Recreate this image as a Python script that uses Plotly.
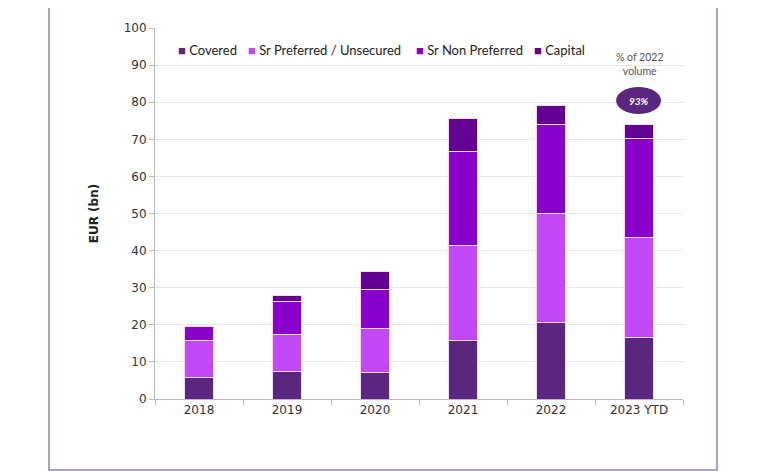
import plotly.graph_objects as go

years = ["2018", "2019", "2020", "2021", "2022", "2023 YTD"]
covered = [5.9, 7.5, 7.1, 15.7, 20.5, 16.6]
sr_preferred = [9.8, 9.8, 11.8, 25.8, 29.4, 27.0]
sr_non_preferred = [3.8, 9.1, 10.6, 25.2, 24.2, 26.7]
capital = [0.0, 1.4, 4.8, 8.9, 5.1, 3.7]

series_names = ["Covered", "Sr Preferred / Unsecured", "Sr Non Preferred", "Capital"]
series_values = [covered, sr_preferred, sr_non_preferred, capital]
colors = ["#5A2680", "#C247F5", "#8A00CB", "#650094"]

pct_label = "93%"
pct_note = "% of 2022<br>volume"

fig = go.Figure()
for name, vals, col in zip(series_names, series_values, colors):
    fig.add_trace(go.Bar(
        x=years, y=vals, name=name, showlegend=False,
        marker=dict(color=col, line=dict(color="#F3DDF8", width=1)),
    ))

# custom compact legend (same look as the reference)
legend_x = [0.040, 0.1723, 0.4905, 0.714]
annotations = []
for name, col, lx in zip(series_names, colors, legend_x):
    annotations.append(dict(
        x=lx, y=0.9407, xref="paper", yref="paper", xanchor="left", yanchor="middle",
        showarrow=False,
        text=f'<span style="color:{col}">■</span> {name}',
        font=dict(size=13, color="#222222", family="Lato, sans-serif"),
    ))

annotations += [
    dict(x=5, y=80.2, xref="x", yref="y", text="<b><i>" + pct_label + "</i></b>",
         showarrow=False, font=dict(color="white", size=10, family="Lato, sans-serif")),
    dict(x=5, y=90.2, xref="x", yref="y", text=pct_note, showarrow=False,
         font=dict(color="#555555", size=10.5, family="Lato, sans-serif")),
]

fig.update_layout(
    barmode="stack",
    bargap=0.67,
    width=768, height=471,
    margin=dict(l=147, r=93, t=20, b=80),
    plot_bgcolor="white", paper_bgcolor="white",
    font=dict(family="Lato, Open Sans, sans-serif", size=12, color="#333333"),
    xaxis=dict(showgrid=False, showline=True, linecolor="#BBBBBB", linewidth=1,
               ticks="outside", tickcolor="#BBBBBB", ticklen=5, tickson="boundaries",
               tickfont=dict(size=12, color="#333333", family="DejaVu Sans")),
    yaxis=dict(range=[0, 100], dtick=10, showgrid=True, gridcolor="#E6E6E6",
               showline=True, linecolor="#BBBBBB", linewidth=1,
               ticks="outside", tickcolor="#BBBBBB", ticklen=5,
               tickfont=dict(size=12, color="#333333", family="DejaVu Sans"),
               title=dict(text="<b>EUR (bn)</b>", font=dict(size=12, color="#222222",
                          family="DejaVu Sans"), standoff=22)),
    shapes=[
        dict(type="rect", xref="paper", yref="paper",
             x0=-0.2008, x1=1.0644, y0=-0.1914, y1=1.08,
             line=dict(color="#9C80B6", width=1.5), fillcolor="rgba(0,0,0,0)", layer="below"),
        dict(type="circle", xref="x", yref="y", x0=4.74, x1=5.25, y0=76.8, y1=84.1,
             fillcolor="#5A2680", line=dict(width=0)),
    ],
    annotations=annotations,
)

fig.write_html("out.html")
